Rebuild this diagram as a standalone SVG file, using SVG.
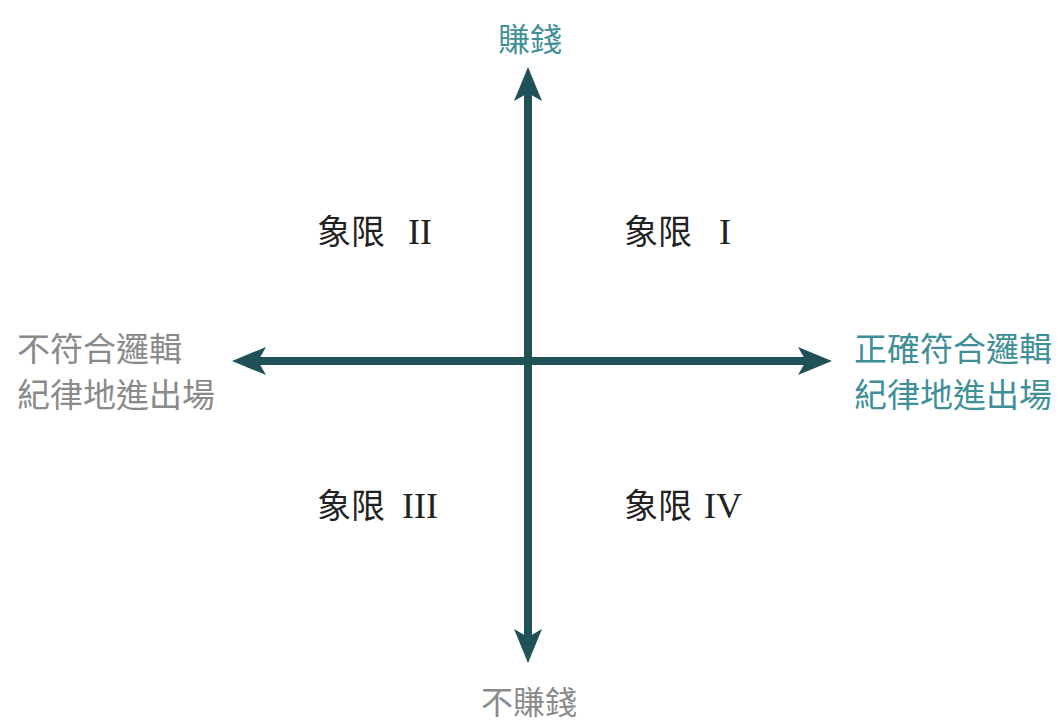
<svg xmlns="http://www.w3.org/2000/svg" width="1062" height="723" viewBox="0 0 1062 723">
<style>
.ax{stroke:#1f5157;stroke-width:8;fill:none}
.cjk{font-family:"Noto Sans CJK TC","Noto Sans CJK SC",sans-serif;font-size:32px}
.side{font-size:33px}
.teal{fill:#3f8f98}
.gray{fill:#8a8a8a}
.q{font-family:"Noto Sans CJK TC","Noto Sans CJK SC",serif;font-size:34px;fill:#222}
.rn{font-family:"Liberation Serif",serif;font-size:36px;fill:#222;text-anchor:middle}
</style>
<defs>
<marker id="ah" markerUnits="userSpaceOnUse" markerWidth="36" markerHeight="30" refX="11" refY="14" orient="auto-start-reverse" viewBox="0 0 36 28">
<path d="M0,0 L34,14 L0,28 L8,14 Z" fill="#1f5157"/>
</marker>
</defs>
<rect width="1062" height="723" fill="#fff"/>
<g id="connectors">
<line class="ax" x1="528" y1="90" x2="528" y2="640" marker-start="url(#ah)" marker-end="url(#ah)"/>
<line class="ax" x1="255" y1="361" x2="809" y2="361" marker-start="url(#ah)" marker-end="url(#ah)"/>
</g>
<g id="top"><text class="cjk teal" x="530" y="51" text-anchor="middle">賺錢</text></g>
<g id="bottom"><text class="cjk gray" x="529" y="714" text-anchor="middle">不賺錢</text></g>
<g id="left"><text class="cjk side gray" x="17" y="361">不符合邏輯</text><text class="cjk side gray" x="17" y="407">紀律地進出場</text></g>
<g id="right"><text class="cjk side teal" x="854" y="361">正確符合邏輯</text><text class="cjk side teal" x="854" y="407">紀律地進出場</text></g>
<g id="q2"><text class="q" x="317" y="244">象限</text><text class="rn" x="420" y="244">II</text></g>
<g id="q1"><text class="q" x="624" y="244">象限</text><text class="rn" x="725" y="244">I</text></g>
<g id="q3"><text class="q" x="317" y="518">象限</text><text class="rn" x="420" y="518">III</text></g>
<g id="q4"><text class="q" x="624" y="518">象限</text><text class="rn" x="723" y="518">IV</text></g>
</svg>
